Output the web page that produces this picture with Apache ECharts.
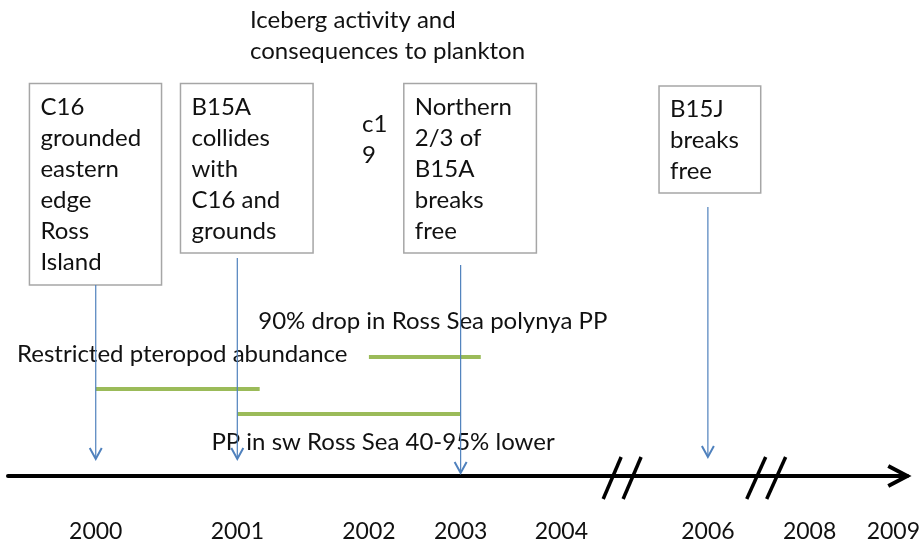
<!DOCTYPE html>
<html>
<head>
<meta charset="utf-8">
<script src="https://cdn.jsdelivr.net/npm/echarts@6/dist/echarts.min.js"></script>
<style>
  html, body { margin: 0; padding: 0; background: #fff; }
  #chart { width: 923px; height: 546px; }
</style>
</head>
<body>
<div id="chart"></div>
<script>
// year labels on the timeline and where each one sits along the drawn axis
const yearTicks = [2000, 2001, 2002, 2003, 2004, 2006, 2008, 2009];
const tickPos = [96, 238, 370, 462, 563, 710, 812, 896];

// iceberg events (boxes with arrows down to the timeline)
const eventYears = [2000, 2001, 2003, 2006];
const eventTexts = [
  'C16\ngrounded\neastern\nedge\nRoss\nIsland',
  'B15A\ncollides\nwith\nC16 and\ngrounds',
  'Northern\n2/3 of\nB15A\nbreaks\nfree',
  'B15J\nbreaks\nfree'
];

// consequences to plankton: periods in years (green bars)
const effectStart = [2002, 2000, 2001];
const effectEnd = [2003.2, 2001.17, 2003];
const effectTexts = [
  '90% drop in Ross Sea polynya PP',
  'Restricted pteropod abundance',
  'PP in sw Ross Sea 40-95% lower'
];
const strayText = 'c1\n9';
const titleText = 'Iceberg activity and\nconsequences to plankton';

// ---- layout (diagram units, the axis runs 8 .. 910) ----
const FONT = 'Lato';
const FS = 24;
const LH = 31;
const boxRects = [[29.5, 83.5, 162, 285], [181, 83.5, 314, 253], [405, 83.5, 538, 253], [661, 86, 763, 193]];
const arrowTop = [285, 258, 265, 207];
const arrowTip = [459, 459, 473, 457];
const effectY = [357, 389, 414];
const effectLabelAt = [[259, 321], [17, 354], [212, 442]];
const breakAt = [[605, 623], [625, 643], [749, 768], [769, 788]];

// piecewise mapping from a year to its place on the (broken) axis
function yearToPos(y) {
  for (let i = 0; i < yearTicks.length - 1; i++) {
    if (y <= yearTicks[i + 1]) {
      const t = (y - yearTicks[i]) / (yearTicks[i + 1] - yearTicks[i]);
      return tickPos[i] + t * (tickPos[i + 1] - tickPos[i]);
    }
  }
  return tickPos[tickPos.length - 1];
}

const chart = echarts.init(document.getElementById('chart'));

const option = {
  animation: false,
  title: {
    text: titleText,
    left: 245,
    top: 0,
    padding: 5,
    textStyle: { fontFamily: FONT, fontSize: FS, fontWeight: 'normal', color: '#111', lineHeight: LH }
  },
  grid: { left: 8, right: 13, top: 0, bottom: 70 },
  xAxis: {
    type: 'value',
    min: 8,
    max: 910,
    splitLine: { show: false },
    axisTick: { show: false },
    axisLine: { onZero: false, lineStyle: { color: '#000', width: 4 } },
    axisLabel: {
      customValues: tickPos,
      formatter: v => String(yearTicks[tickPos.indexOf(v)]),
      margin: 44,
      fontFamily: FONT,
      fontSize: 23,
      color: '#111'
    }
  },
  yAxis: { type: 'value', min: 0, max: 476, inverse: true, show: false },
  series: [
    {
      // boxes with event text
      type: 'custom',
      data: eventTexts.map((t, i) => [i]),
      renderItem: (params, api) => {
        const i = api.value(0);
        const r = boxRects[i];
        const p0 = api.coord([r[0], r[1]]);
        const p1 = api.coord([r[2], r[3]]);
        return {
          type: 'group',
          children: [
            { type: 'rect', shape: { x: p0[0], y: p0[1], width: p1[0] - p0[0], height: p1[1] - p0[1] },
              style: { fill: '#fff', stroke: '#a6a6a6', lineWidth: 1.5 } },
            { type: 'text', x: p0[0] + 11, y: p0[1] + 8,
              style: { text: eventTexts[i], fontFamily: FONT, fontSize: FS, lineHeight: LH, fill: '#111', verticalAlign: 'top' } }
          ]
        };
      }
    },
    {
      // annotation texts
      type: 'custom',
      data: effectTexts.map((t, i) => [i]),
      renderItem: (params, api) => {
        const i = api.value(0);
        const p = api.coord(effectLabelAt[i]);
        return { type: 'text', x: p[0], y: p[1],
          style: { text: effectTexts[i], fontFamily: FONT, fontSize: FS, fill: '#111', verticalAlign: 'middle' } };
      }
    },
    {
      type: 'custom',
      data: [[363, 108.5]],
      renderItem: (params, api) => {
        const p = api.coord([api.value(0), api.value(1)]);
        return { type: 'text', x: p[0], y: p[1],
          style: { text: strayText, fontFamily: FONT, fontSize: FS, lineHeight: LH, fill: '#111', verticalAlign: 'top' } };
      }
    },
    {
      // green period bars
      type: 'custom',
      data: effectStart.map((s, i) => [yearToPos(s), yearToPos(effectEnd[i]), effectY[i]]),
      renderItem: (params, api) => {
        const a = api.coord([api.value(0), api.value(2)]);
        const b = api.coord([api.value(1), api.value(2)]);
        return { type: 'line', shape: { x1: a[0], y1: a[1], x2: b[0], y2: b[1] },
          style: { stroke: '#9bbb59', lineWidth: 4 } };
      }
    },
    {
      // event arrows
      type: 'custom',
      data: eventYears.map((y, i) => [yearToPos(y), arrowTop[i], arrowTip[i]]),
      renderItem: (params, api) => {
        const a = api.coord([api.value(0), api.value(1)]);
        const b = api.coord([api.value(0), api.value(2)]);
        return {
          type: 'group',
          children: [
            { type: 'line', shape: { x1: a[0], y1: a[1], x2: b[0], y2: b[1] },
              style: { stroke: '#4f81bd', lineWidth: 1.2 } },
            { type: 'polyline', shape: { points: [[b[0] - 6, b[1] - 11], [b[0], b[1]], [b[0] + 6, b[1] - 11]] },
              style: { stroke: '#4f81bd', lineWidth: 2, fill: null } }
          ]
        };
      }
    },
    {
      // axis breaks
      type: 'custom',
      data: breakAt,
      renderItem: (params, api) => {
        const a = api.coord([api.value(0), 499]);
        const b = api.coord([api.value(1), 457]);
        return { type: 'line', shape: { x1: a[0], y1: a[1], x2: b[0], y2: b[1] },
          style: { stroke: '#000', lineWidth: 3.5 } };
      }
    },
    {
      // arrow head on the timeline
      type: 'custom',
      data: [[910, 476]],
      renderItem: (params, api) => {
        const p = api.coord([api.value(0), api.value(1)]);
        return { type: 'polyline', shape: { points: [[p[0] - 19, p[1] - 10], [p[0], p[1]], [p[0] - 19, p[1] + 10]] },
          style: { stroke: '#000', lineWidth: 4, fill: null } };
      }
    }
  ]
};

chart.setOption(option);
</script>
</body>
</html>
